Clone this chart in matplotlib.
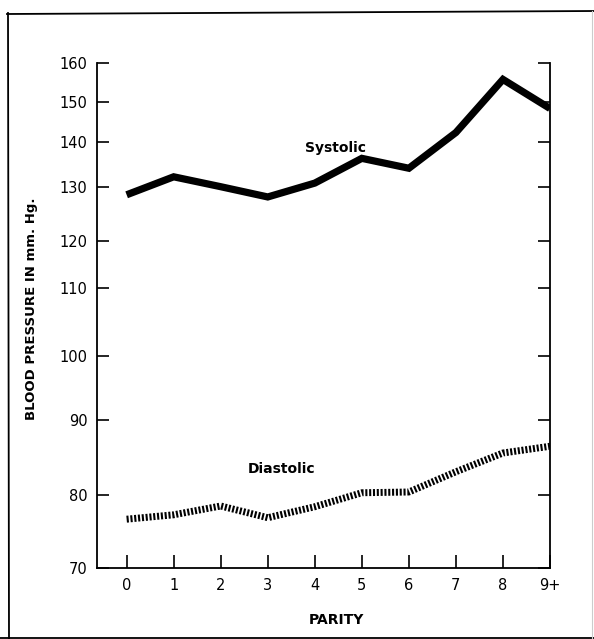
import numpy as np
import matplotlib
matplotlib.use("Agg")
import matplotlib.pyplot as plt
from matplotlib.lines import Line2D

# ---- data ----
parity_pos = [0, 1, 2, 3, 4, 5, 6, 7, 8, 9]
parity_labels = ["0", "1", "2", "3", "4", "5", "6", "7", "8", "9+"]
systolic = [128.5, 132.2, 130.0, 128.1, 130.8, 136.3, 134.1, 142.3, 155.8, 148.3]
diastolic = [76.7, 77.3, 78.5, 76.9, 78.4, 80.3, 80.4, 83.1, 85.6, 86.5]
ytick_vals = [70, 80, 90, 100, 110, 120, 130, 140, 150, 160]

# non-uniform (hand-drawn, roughly logarithmic) vertical scale of the original
scale_pos = np.array([0, 73.3, 148.3, 212.3, 280, 327.6, 381.6, 426.6, 466.6, 505.0])
scale_val = np.array(ytick_vals, dtype=float)

def fwd(v):
    return np.interp(v, scale_val, scale_pos)

def inv(p):
    return np.interp(p, scale_pos, scale_val)

W, H = 594, 639
fig = plt.figure(figsize=(W / 100, H / 100), dpi=100)
fig.patch.set_facecolor("white")

left, right, bottom, top = 97, 550, 568.3, 63.3
ax = fig.add_axes([left / W, 1 - bottom / H, (right - left) / W, (bottom - top) / H])
ax.set_yscale("function", functions=(fwd, inv))
ax.set_ylim(70, 160)
ax.set_xlim(-0.63, 9)

ax.plot(parity_pos, systolic, color="black", lw=5.2, solid_joinstyle="miter",
        solid_capstyle="butt")
ax.plot(parity_pos, diastolic, color="black", lw=5.0,
        linestyle=(0, (0.3, 0.25)), dash_capstyle="butt")

ax.set_yticks(ytick_vals)
ax.set_yticklabels([str(v) for v in ytick_vals])
ax.set_xticks(parity_pos)
ax.set_xticklabels(parity_labels)
ax.yaxis.set_minor_locator(matplotlib.ticker.NullLocator())

for s in ["left", "bottom", "right"]:
    ax.spines[s].set_linewidth(1.3)
ax.spines["top"].set_visible(False)

ax.tick_params(axis="y", which="major", direction="in", length=8.5, width=1.2,
               right=True, left=True, labelsize=10.5, pad=7)
ax.tick_params(axis="x", which="major", direction="in", length=9.5, width=1.2,
               labelsize=10.5, pad=7)

ax.text(4.43, 138.5, "Systolic", ha="center", va="center", fontsize=10, fontweight="bold")
ax.text(3.3, 83.5, "Diastolic", ha="center", va="center", fontsize=10, fontweight="bold")

fig.text(32 / W, 1 - 309 / H, "BLOOD PRESSURE IN mm. Hg.", rotation=90,
         ha="center", va="center", fontsize=9.5, fontweight="bold")
fig.text(336 / W, 1 - 620 / H, "PARITY", ha="center", va="center",
         fontsize=10, fontweight="bold")

# outer frame of the scanned page
fig.add_artist(Line2D([8 / W, 9 / W], [1 - 13 / H, 0], transform=fig.transFigure,
                      color="black", lw=1.3))
fig.add_artist(Line2D([7 / W, 1], [1 - 14 / H, 1 - 11 / H], transform=fig.transFigure,
                      color="black", lw=1.3))
fig.add_artist(Line2D([0, 1], [1 - 637.5 / H, 1 - 637.5 / H], transform=fig.transFigure,
                      color="black", lw=1.3))
fig.add_artist(Line2D([592 / W, 592 / W], [1 - 11 / H, 0], transform=fig.transFigure,
                      color="#cccccc", lw=0.8))

fig.savefig("out.png", dpi=100)
